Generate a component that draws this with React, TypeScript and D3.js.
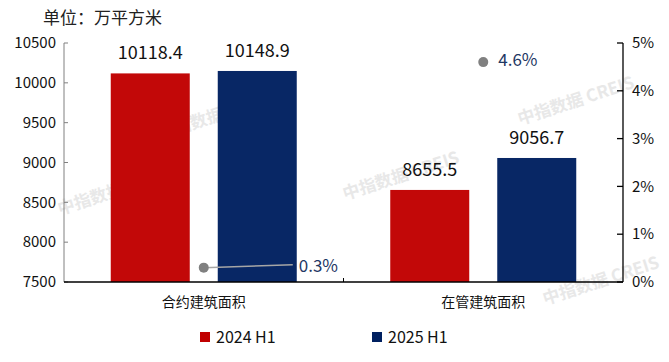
import React from "react";
import * as d3 from "d3";

const categories = ["合约建筑面积", "在管建筑面积"];
const seriesNames = ["2024 H1", "2025 H1"];
const values2024 = [10118.4, 8655.5];
const values2025 = [10148.9, 9056.7];
const growth = [0.3, 4.6];
const leftTicks = [7500, 8000, 8500, 9000, 9500, 10000, 10500];
const rightTicks = [0, 1, 2, 3, 4, 5];
const colors = ["#C00000", "#002060"];

const W = 669;
const H = 362;
const FONT = "'Noto Sans CJK SC', 'Microsoft YaHei', sans-serif";

export default function App() {
  const left = 64, right = 623, top = 43, bottom = 282;
  const x = d3.scaleBand<string>().domain(categories).range([left, right]);
  const y = d3.scaleLinear().domain([7500, 10500]).range([bottom, top]);
  const y2 = d3.scaleLinear().domain([0, 5]).range([bottom, top]);
  const barW = 79;
  const gap = 28;
  const series = [values2024, values2025];

  const watermarks = [
    [345, 200], [520, 125], [60, 215], [545, 305], [160, 140],
  ];

  return (
    <svg width={W} height={H} style={{ position: "absolute", left: 0, top: 0, background: "#fff" }} fontFamily={FONT}>
      {watermarks.map(([wx, wy], i) => (
        <text key={i} x={wx} y={wy} transform={`rotate(-18 ${wx} ${wy})`} fontSize={17} fontWeight={700} fill="#e8e8e8">
          中指数据 CREIS
        </text>
      ))}
      <text x={43} y={24} fontSize={17} fill="#222">单位：万平方米</text>

      {/* bars */}
      {categories.map((c, ci) => {
        const cx = (x(c) as number) + x.bandwidth() / 2;
        return series.map((s, si) => {
          const bx = si === 0 ? cx - gap / 2 - barW : cx + gap / 2;
          return (
            <g key={c + si}>
              <rect x={bx} y={y(s[ci])} width={barW} height={bottom - y(s[ci])} fill={colors[si]} opacity={0.97} />
              <text x={bx + barW / 2} y={y(s[ci]) - 14} textAnchor="middle" fontSize={18} fill="#111">
                {s[ci].toFixed(1)}
              </text>
            </g>
          );
        });
      })}

      {/* left axis */}
      <line x1={left} x2={left} y1={top} y2={bottom} stroke="#808080" />
      {leftTicks.map((t) => (
        <g key={t}>
          <line x1={left} x2={left + 4} y1={y(t)} y2={y(t)} stroke="#808080" />
          <text x={56} y={y(t)} dy="0.35em" textAnchor="end" fontSize={15} fill="#111">{t}</text>
        </g>
      ))}

      {/* right axis */}
      <line x1={right} x2={right} y1={top} y2={bottom} stroke="#000" strokeWidth={1.3} />
      {rightTicks.map((t) => (
        <g key={t}>
          <line x1={right - 6} x2={right} y1={y2(t)} y2={y2(t)} stroke="#000" strokeWidth={1.3} />
          <text x={632} y={y2(t)} dy="0.35em" fontSize={15} fill="#111">{t}%</text>
        </g>
      ))}

      {/* bottom axis */}
      <line x1={left} x2={right} y1={bottom} y2={bottom} stroke="#000" strokeWidth={1.3} />
      <line x1={x(categories[1]) as number} x2={x(categories[1]) as number} y1={bottom - 4} y2={bottom} stroke="#000" />
      {categories.map((c) => (
        <text key={c} x={(x(c) as number) + x.bandwidth() / 2} y={307} textAnchor="middle" fontSize={14} fill="#111">{c}</text>
      ))}

      {/* growth points */}
      {categories.map((c, ci) => {
        const cx = (x(c) as number) + x.bandwidth() / 2;
        const cy = y2(growth[ci]);
        const lx = ci === 0 ? cx + 95 : cx + 15;
        return (
          <g key={"g" + c}>
            {ci === 0 && <line x1={cx} y1={cy} x2={lx - 6} y2={cy - 3} stroke="#A6A6A6" strokeWidth={1.5} />}
            <circle cx={cx} cy={cy} r={5} fill="#808080" />
            <text x={lx} y={cy - 2} dy="0.35em" fontSize={17} fill="#1F3864">{growth[ci].toFixed(1)}%</text>
          </g>
        );
      })}

      {/* legend */}
      {seriesNames.map((n, i) => {
        const lx = i === 0 ? 200 : 372;
        return (
          <g key={n}>
            <rect x={lx} y={332} width={10} height={10} fill={colors[i]} />
            <text x={lx + 16} y={337} dy="0.35em" fontSize={16} fill="#111">{n}</text>
          </g>
        );
      })}
    </svg>
  );
}
